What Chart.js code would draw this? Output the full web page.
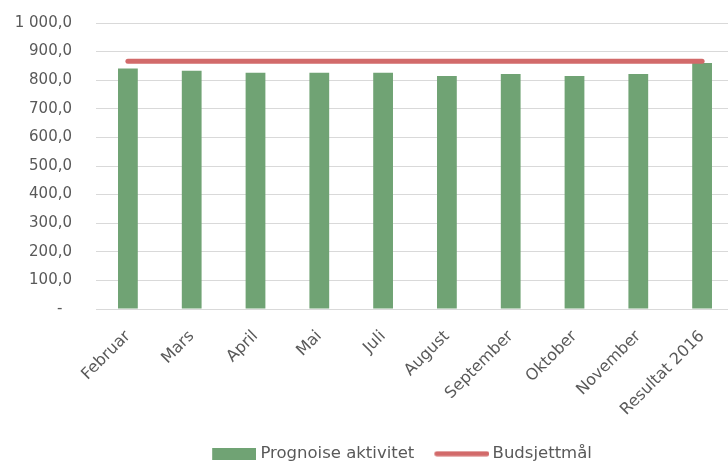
<!DOCTYPE html>
<html>
<head>
<meta charset="utf-8">
<script src="https://cdn.jsdelivr.net/npm/chart.js@4"></script>
<style>
  html, body { margin: 0; padding: 0; background: #fff; overflow: hidden; }
</style>
</head>
<body>
<!-- the plot runs a few pixels past the right edge in the original, so the canvas is a bit wider than the window -->
<canvas id="chart" width="734" height="462"></canvas>
<script>
const categories = ["Februar", "Mars", "April", "Mai", "Juli", "August", "September", "Oktober", "November", "Resultat 2016"];
const prognoseAktivitet = [841, 833, 826, 826, 826, 815, 822, 815, 822, 860];
const budsjettMal = [866, 866, 866, 866, 866, 866, 866, 866, 866, 866];
const yTickValues = [0, 100, 200, 300, 400, 500, 600, 700, 800, 900, 1000];

const barColor = "#70a374";
const lineColor = "#d26a6a";
const textColor = "#595959";
const fontFamily = "'DejaVu Sans', sans-serif";

// number format like "1 000,0", zero shown as a dash
function formatTick(v) {
  if (v === 0) return "-  ";
  return v.toFixed(1).replace(".", ",").replace(/\B(?=(\d{3})+(?!\d))/g, " ");
}

// small canvases used as legend symbols
function makeIcon(w, h, draw) {
  const c = document.createElement("canvas");
  c.width = w;
  c.height = h;
  draw(c.getContext("2d"));
  return c;
}
const barIcon = makeIcon(58, 12, ctx => {
  ctx.fillStyle = barColor;
  ctx.fillRect(14, 0, 44, 12);
});
const lineIcon = makeIcon(60, 6, ctx => {
  ctx.strokeStyle = lineColor;
  ctx.lineWidth = 5;
  ctx.lineCap = "round";
  ctx.beginPath();
  ctx.moveTo(7.5, 3);
  ctx.lineTo(57.5, 3);
  ctx.stroke();
});

// nudge the legend to where the original sits
const legendShift = {
  id: "legendShift",
  afterLayout(chart) {
    const l = chart.legend;
    l.left += 30; l.right += 30;
    l.top += 10; l.bottom += 10;
  }
};

const ctx = document.getElementById("chart").getContext("2d");
new Chart(ctx, {
  type: "bar",
  data: {
    labels: categories,
    datasets: [
      {
        type: "bar",
        label: "Prognoise aktivitet",
        data: prognoseAktivitet,
        backgroundColor: barColor,
        barPercentage: 0.31,
        categoryPercentage: 1,
        legendIcon: barIcon,
        order: 2
      },
      {
        type: "line",
        label: "Budsjettmål",
        data: budsjettMal,
        borderColor: lineColor,
        backgroundColor: lineColor,
        borderWidth: 5,
        borderCapStyle: "round",
        pointRadius: 0,
        fill: false,
        legendIcon: lineIcon,
        order: 1
      }
    ]
  },
  options: {
    responsive: false,
    animation: false,
    layout: { padding: { top: 23, right: 0, bottom: 0, left: 0 } },
    plugins: {
      tooltip: { enabled: false },
      legend: {
        position: "bottom",
        labels: {
          usePointStyle: true,
          pointStyleWidth: 50,
          padding: 20,
          color: textColor,
          font: { family: fontFamily, size: 16.5 },
          generateLabels: chart => chart.data.datasets.map((ds, i) => ({
            text: ds.label,
            pointStyle: ds.legendIcon,
            fillStyle: ds.backgroundColor,
            strokeStyle: "transparent",
            lineWidth: 0,
            fontColor: textColor,
            hidden: false,
            datasetIndex: i
          }))
        }
      }
    },
    scales: {
      x: {
        grid: { display: false },
        border: { display: false },
        ticks: {
          color: textColor,
          font: { family: fontFamily, size: 16 },
          minRotation: 45,
          maxRotation: 45,
          autoSkip: false,
          padding: 10
        },
        afterFit: scale => { scale.height = 106.5; }
      },
      y: {
        min: 0,
        max: 1000,
        // invisible tick marks keep the labels away from the plot without padding the top
        grid: { color: "#d9d9d9", lineWidth: 1, drawTicks: true, tickLength: 24, tickColor: "transparent" },
        border: { display: false },
        afterBuildTicks: scale => { scale.ticks = yTickValues.map(v => ({ value: v })); },
        afterFit: scale => { scale.width = 96; },
        ticks: {
          color: textColor,
          font: { family: fontFamily, size: 15 },
          padding: 0,
          callback: v => formatTick(v)
        }
      }
    }
  },
  plugins: [legendShift]
});
</script>
</body>
</html>
